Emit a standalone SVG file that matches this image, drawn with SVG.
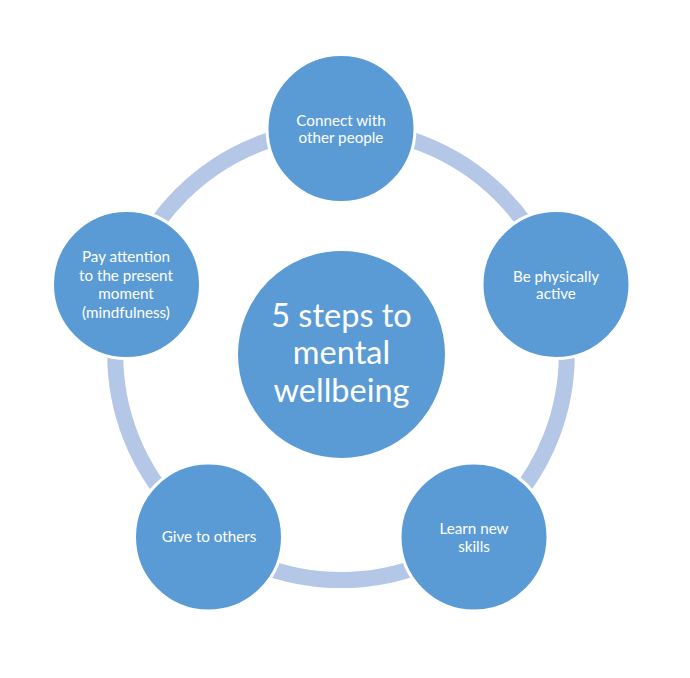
<svg xmlns="http://www.w3.org/2000/svg" width="690" height="678" viewBox="0 0 690 678">
<style>
.node{fill:#5b9bd5;stroke:#ffffff;stroke-width:3}
.t{fill:#ffffff;font-family:Lato,"Open Sans","Liberation Sans",sans-serif;font-size:15.2px;text-anchor:middle}
.big{font-size:32.5px}
</style>
<rect width="690" height="678" fill="#ffffff"/>
<g id="connectors">
<circle cx="341" cy="354.3" r="225.8" fill="none" stroke="#b4c7e7" stroke-width="16"/>
</g>
<g id="center">
<circle class="node" cx="341.5" cy="354.5" r="105"/>
<text class="t big" x="341.5" y="327">5 steps to</text>
<text class="t big" x="341.5" y="364">mental</text>
<text class="t big" x="341.5" y="402">wellbeing</text>
</g>
<g id="connect">
<circle class="node" cx="341" cy="128.5" r="74"/>
<text class="t" x="341" y="126">Connect with</text>
<text class="t" x="341" y="143">other people</text>
</g>
<g id="active">
<circle class="node" cx="556" cy="284.5" r="74"/>
<text class="t" x="556" y="282">Be physically</text>
<text class="t" x="556" y="299">active</text>
</g>
<g id="learn">
<circle class="node" cx="474" cy="537" r="74"/>
<text class="t" x="474" y="534">Learn new</text>
<text class="t" x="474" y="552">skills</text>
</g>
<g id="give">
<circle class="node" cx="208.5" cy="537" r="74"/>
<text class="t" x="209" y="542">Give to others</text>
</g>
<g id="mindful">
<circle class="node" cx="126.5" cy="284.5" r="74"/>
<text class="t" x="126" y="262">Pay attention</text>
<text class="t" x="126" y="281">to the present</text>
<text class="t" x="126" y="299">moment</text>
<text class="t" x="126" y="318">(mindfulness)</text>
</g>
</svg>
